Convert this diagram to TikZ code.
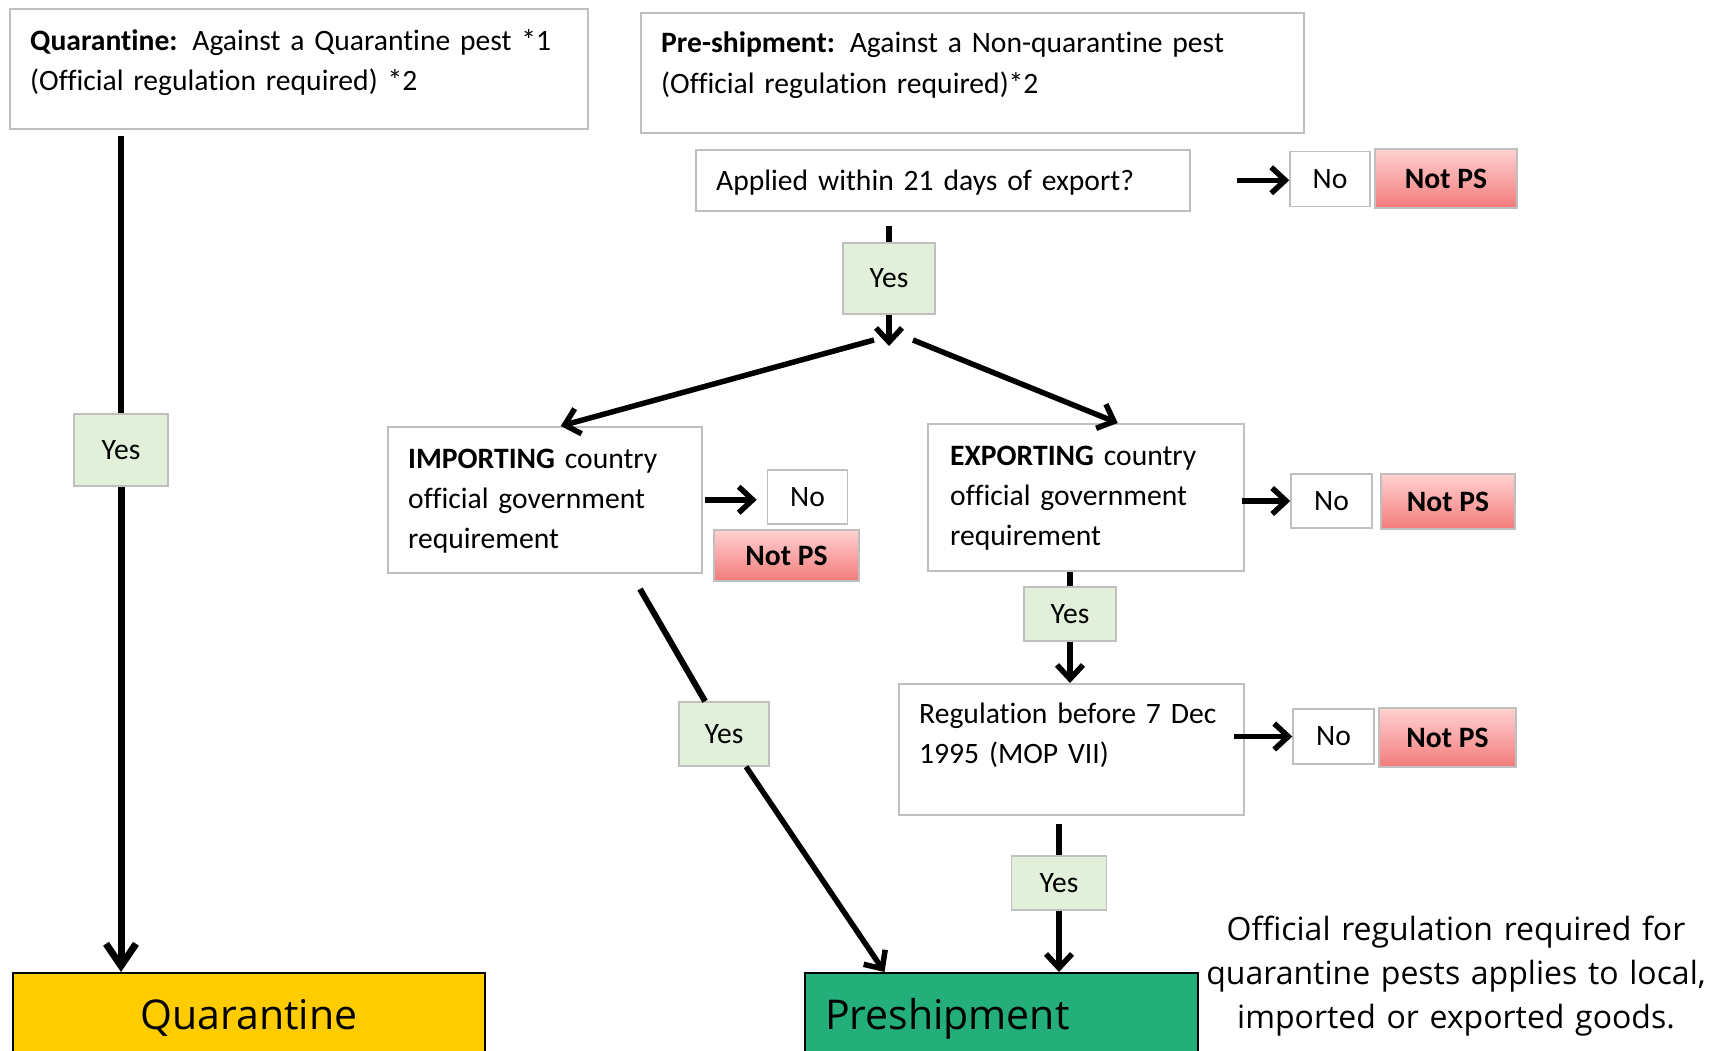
\documentclass[tikz,border=0pt]{standalone}
\usepackage{fontspec}
\setmainfont{Carlito}[Ligatures=CommonOff]
\newfontfamily\osans{Open Sans}
\usetikzlibrary{arrows.meta,calc}
\definecolor{bordergray}{HTML}{BFBFBF}
\definecolor{yesgreen}{HTML}{E2EFDA}
\definecolor{pinktop}{HTML}{FFD1D1}
\definecolor{pinkbot}{HTML}{F37B7B}
\definecolor{quaryellow}{HTML}{FFCC00}
\definecolor{pregreen}{HTML}{23AE7A}
\begin{document}
\begin{tikzpicture}[x=1pt,y=-1pt,
  every node/.style={inner sep=0pt, font=\fontsize{29.6}{40}\selectfont},
  qbox/.style={draw=bordergray, line width=1.5pt, fill=white, anchor=north west},
  lbl/.style={anchor=base west, align=left, text width=#1, xshift=21pt, yshift=-42pt},
  smallbox/.style={draw=bordergray, line width=1.5pt, fill=white},
  yesbox/.style={draw=bordergray, line width=1.5pt, fill=yesgreen},
  notps/.style={draw=bordergray, line width=1.5pt, top color=pinktop, bottom color=pinkbot, font=\fontsize{29.6}{40}\selectfont\bfseries},
  endbox/.style={draw=black, line width=2pt, minimum height=82pt, text depth=0pt, font=\osans\fontsize{41}{41}\selectfont},
  link/.style={line width=6pt},
  arr/.style={line width=5.5pt, -{Straight Barb[length=14pt,width=26pt]}},
  arrlong/.style={line width=7pt, -{Straight Barb[length=22pt,width=30pt]}},
]
\useasboundingbox (0,0) rectangle (1721,1050);

% text boxes
\node[qbox, minimum width=578pt, minimum height=120pt,
  label={[lbl=560pt]north west:{\textbf{Quarantine:} Against a Quarantine pest *1\\(Official regulation required) *2}}] (qtop) at (9,8) {};
\node[qbox, minimum width=663pt, minimum height=120pt,
  label={[lbl=640pt, yshift=2pt]north west:{\textbf{Pre-shipment:} Against a Non-quarantine pest\\[1pt](Official regulation required)*2}}] (pstop) at (640,12) {};
\node[qbox, minimum width=494pt, minimum height=61pt,
  label={[lbl=470pt, yshift=1pt]north west:{Applied within 21 days of export?}}] (app) at (695,149) {};
\node[qbox, minimum width=314pt, minimum height=146pt,
  label={[lbl=290pt]north west:{\textbf{IMPORTING} country\\official government\\requirement}}] (imp) at (387,426) {};
\node[qbox, minimum width=316pt, minimum height=147pt,
  label={[lbl=290pt, xshift=2pt]north west:{\textbf{EXPORTING} country\\official government\\requirement}}] (exp) at (927,423) {};
\node[qbox, minimum width=345pt, minimum height=131pt,
  label={[lbl=320pt, yshift=2pt]north west:{Regulation before 7 Dec\\1995 (MOP VII)}}] (reg) at (898,683) {};

% No / Not PS
\node[smallbox, minimum width=80pt, minimum height=55pt] (no1) at (1330,179) {No};
\node[notps, minimum width=142pt, minimum height=59pt] (np1) at (1446,178.5) {Not PS};
\node[smallbox, minimum width=80pt, minimum height=54pt] (no2) at (807.5,497) {No};
\node[notps, minimum width=145pt, minimum height=51pt] (np2) at (786.5,555.5) {Not PS};
\node[smallbox, minimum width=81pt, minimum height=54pt] (no3) at (1331.5,501) {No};
\node[notps, minimum width=134pt, minimum height=55pt] (np3) at (1448,501.5) {Not PS};
\node[smallbox, minimum width=81pt, minimum height=55pt] (no4) at (1333.5,736.5) {No};
\node[notps, minimum width=137pt, minimum height=59pt] (np4) at (1447.5,737.5) {Not PS};

% Yes
\node[yesbox, minimum width=94pt, minimum height=72pt] (yq) at (121,450) {Yes};
\node[yesbox, minimum width=92pt, minimum height=71pt] (y1) at (889,278.5) {Yes};
\node[yesbox, minimum width=92pt, minimum height=54pt] (yE) at (1070,614) {Yes};
\node[yesbox, minimum width=95pt, minimum height=54pt] (y3) at (1059,883) {Yes};
\node[yesbox, minimum width=90pt, minimum height=64pt] (yI) at (724,734) {Yes};

% end boxes
\node[endbox, fill=quaryellow, minimum width=472pt] (quar) at (249,1014) {Quarantine};
\node[endbox, fill=pregreen, minimum width=393pt, text width=353pt, align=left] (pre) at (1001.5,1014) {Preshipment};

\node[font=\osans\fontsize{32}{44}\selectfont, text width=520pt, align=center, anchor=base] (note) at (1456,940)
  {Official regulation required for\\quarantine pests applies to local,\\imported or exported goods.};

% connectors
\coordinate (split) at (889,346);
\coordinate (splitL) at (874,340);
\coordinate (splitR) at (913,340);
\coordinate (impOut) at (640,589);

\draw[link] ($(qtop.south -| yq.north)+(0,6)$) -- (yq.north);
\draw[arrlong] (yq.south) -- (yq.south |- quar.north);

\draw[link] ($(app.south -| y1.north)+(0,14)$) -- (y1.north);
\draw[arr] (y1.south) -- (split);
\draw[arr] (splitL) -- ([xshift=16pt]imp.north);
\draw[arr] (splitR) -- ([xshift=32pt]exp.north);

\draw[arr] ($(app.east)+(46,0)$) -- (app.east -| no1.west);
\draw[arr] ($(imp.east)+(2,0)$) -- ($(imp.east -| no2.west)+(-10,0)$);
\draw[arr] ($(exp.east |- no3.west)+(-3,0)$) -- (no3.west);
\draw[arr] ($(reg.east |- no4.west)+(-11,0)$) -- (no4.west);

\draw[link] (exp.south -| yE.north) -- (yE.north);
\draw[arr] (yE.south) -- (yE.south |- reg.north);
\draw[link] ($(reg.south -| y3.north)+(0,8)$) -- (y3.north);
\draw[arr] (y3.south) -- (y3.south |- pre.north);

\draw[link] (impOut) -- (yI);
\draw[arr] (yI) -- ([xshift=-117pt]pre.north);
\end{tikzpicture}
\end{document}
